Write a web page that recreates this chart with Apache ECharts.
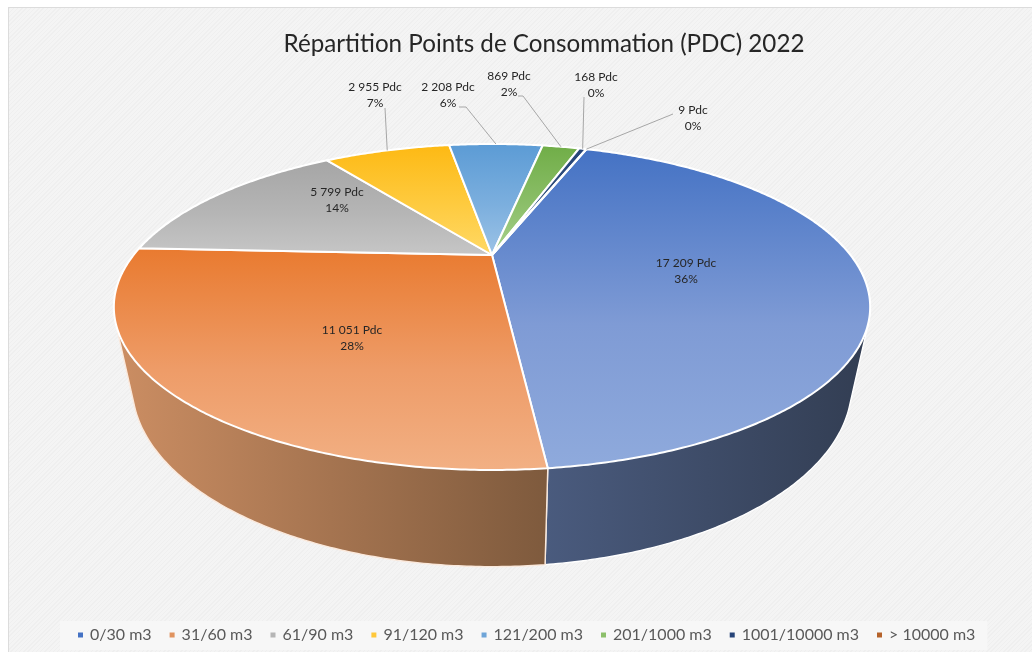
<!DOCTYPE html>
<html><head><meta charset="utf-8">
<style>
html,body{margin:0;padding:0;background:#fff;width:1032px;height:652px;overflow:hidden}
#bg{position:absolute;left:8px;top:7px;width:1024px;height:645px;box-sizing:border-box;border-left:1px solid #dcdcdc;border-top:1px solid #dcdcdc;
background:repeating-linear-gradient(135deg,#efefef 0,#efefef 1px,#f4f4f4 1px,#f4f4f4 3px)}
#c{position:absolute;left:0;top:0;width:1032px;height:652px}
</style>
<script src="https://cdn.jsdelivr.net/npm/echarts@6/dist/echarts.min.js"></script>
</head><body><div id="bg"></div><div id="c"></div>
<script>
const titleText = 'Répartition Points de Consommation (PDC) 2022';
const categories = ['0/30 m3','31/60 m3','61/90 m3','91/120 m3','121/200 m3','201/1000 m3','1001/10000 m3','> 10000 m3'];
const pdcValues = [17209,11051,5799,2955,2208,869,168,9];
const percentLabels = ['36%','28%','14%','7%','6%','2%','0%','0%'];

const topColors = [['#4472C4','#7F9BD5','#8FAADC'],['#E97A2F','#EE9C68','#F2B084'],['#A5A5A5','#B5B5B5','#C6C6C6'],['#FDB913','#FECB40','#FFD966'],['#5B9BD5','#7CAFDE','#9DC3E6'],['#70AD47','#8CBF6A','#A9D18E'],['#264478','#30507F','#3A5A94'],['#9E480E','#B05010','#C55A11']];
const legendColors = ['#4472C4','#E0935F','#B5B5B5','#FFC83A','#6FA5D8','#8CBF6A','#264478','#B5622A'];
const wallColors = [['#4A5B7E','#323D52'],['#CC8E63','#7E5A3D'],['#777','#555'],['#A88','#866'],['#468','#357'],['#464','#353'],['#234','#123'],['#631','#521']];

// perspective model of the tilted disc
const startAngle = 20.05, K = 0.319;
const topDisc = {cx:492, cy:255, rx:358.4, ry:146.4};
const bottomDisc = {cx:492, cy:328, rx:341, ry:162.5};
function project(d, deg){
  const a = deg*Math.PI/180, u = Math.sin(a), v = -Math.cos(a), w = 1-K*v;
  return [d.cx+d.rx*u/w, d.cy+d.ry*v/w];
}
const total = pdcValues.reduce((s,v)=>s+v,0);
function sliceRange(i){
  let a = startAngle;
  for(let j=0;j<i;j++) a += pdcValues[j]/total*360;
  return [a, a+pdcValues[i]/total*360];
}
function arc(d,a0,a1){
  const n = Math.max(2,Math.ceil(Math.abs(a1-a0)/0.5)), pts=[];
  for(let k=0;k<=n;k++) pts.push(project(d,a0+(a1-a0)*k/n));
  return pts;
}
function hull(points){
  const p = points.slice().sort((a,b)=>a[0]-b[0]||a[1]-b[1]);
  const cross=(o,a,b)=>(a[0]-o[0])*(b[1]-o[1])-(a[1]-o[1])*(b[0]-o[0]);
  const lo=[],up=[];
  for(const q of p){while(lo.length>1&&cross(lo[lo.length-2],lo[lo.length-1],q)<=0)lo.pop();lo.push(q);}
  for(const q of p.reverse()){while(up.length>1&&cross(up[up.length-2],up[up.length-1],q)<=0)up.pop();up.push(q);}
  lo.pop();up.pop();return lo.concat(up);
}
const fmt = v => String(v).replace(/\B(?=(\d{3})+$)/g,' ');
function vGrad(c){return {type:'linear',x:0,y:0,x2:0,y2:1,colorStops:[{offset:0,color:c[0]},{offset:0.55,color:c[1]},{offset:1,color:c[2]}]};}
function hGrad(c){return {type:'linear',x:0,y:0,x2:1,y2:0,colorStops:[{offset:0,color:c[0]},{offset:1,color:c[1]}]};}

// label layout: text centre, and the elbow of the leader line (none for inside labels)
const labelBoxes = [
 {x:686,y:271},{x:352,y:338},{x:337,y:200},
 {x:375,y:95,line:[[385,108]]},
 {x:448,y:95,line:[[459,107],[466,107]]},
 {x:509,y:84,line:[[518,96],[523,96]]},
 {x:596,y:85,line:[[584,97]]},
 {x:693,y:118,line:[[673,114]]}
];

function renderWall(params,api){
  const i = params.seriesIndex;
  const [a0,a1] = sliceRange(i);
  const pts = hull(arc(topDisc,a0,a1).concat(arc(bottomDisc,a0,a1)));
  return {type:'polygon',shape:{points:pts},style:{fill:hGrad(wallColors[i]),stroke:i===1?'#FBE9DC':'#FFFFFF',lineWidth:1.4}};
}
function renderTop(params,api){
  const i = params.seriesIndex-pdcValues.length;
  const [a0,a1] = sliceRange(i);
  const pts = [[topDisc.cx,topDisc.cy]].concat(arc(topDisc,a0,a1));
  const children = [{type:'polygon',shape:{points:pts},style:{fill:vGrad(topColors[i]),stroke:'#FFFFFF',lineWidth:2,lineJoin:'round'}}];
  const box = labelBoxes[i];
  if(box.line){
    const rim = project(topDisc,(a0+a1)/2);
    children.push({type:'polyline',shape:{points:box.line.concat([rim])},style:{fill:null,stroke:'#A6A6A6',lineWidth:1},z2:5});
  }
  children.push({type:'text',z2:6,style:{x:box.x,y:box.y,text:fmt(api.value(0))+' Pdc\n'+percentLabels[i],
    fill:'#262626',font:'12px Lato, sans-serif',lineHeight:16.5,textAlign:'center',textVerticalAlign:'middle'}});
  return {type:'group',children};
}
const series = [];
pdcValues.forEach((v,i)=>series.push({type:'custom',coordinateSystem:'none',name:'wall'+i,z:1,silent:true,animation:false,data:[[v]],renderItem:renderWall}));
pdcValues.forEach((v,i)=>series.push({type:'custom',coordinateSystem:'none',name:categories[i],z:2,silent:true,animation:false,
  itemStyle:{color:legendColors[i]},data:[[v]],renderItem:renderTop}));

const chart = echarts.init(document.getElementById('c'),null,{renderer:'canvas'});
chart.setOption({
  animation:false,
  title:{text:titleText,left:539,top:27,textAlign:'center',textStyle:{fontFamily:'Lato, sans-serif',fontSize:24.2,fontWeight:'normal',color:'#262626'}},
  legend:{data:categories,left:60,top:621,icon:'rect',itemWidth:5,itemHeight:5,itemGap:18,selectedMode:false,
    backgroundColor:'#F7F7F7',padding:[6,12,7,18],borderRadius:0,
    textStyle:{fontFamily:'Lato, sans-serif',fontSize:16,color:'#595959',padding:[0,0,0,2]}},
  series
});
</script></body></html>
